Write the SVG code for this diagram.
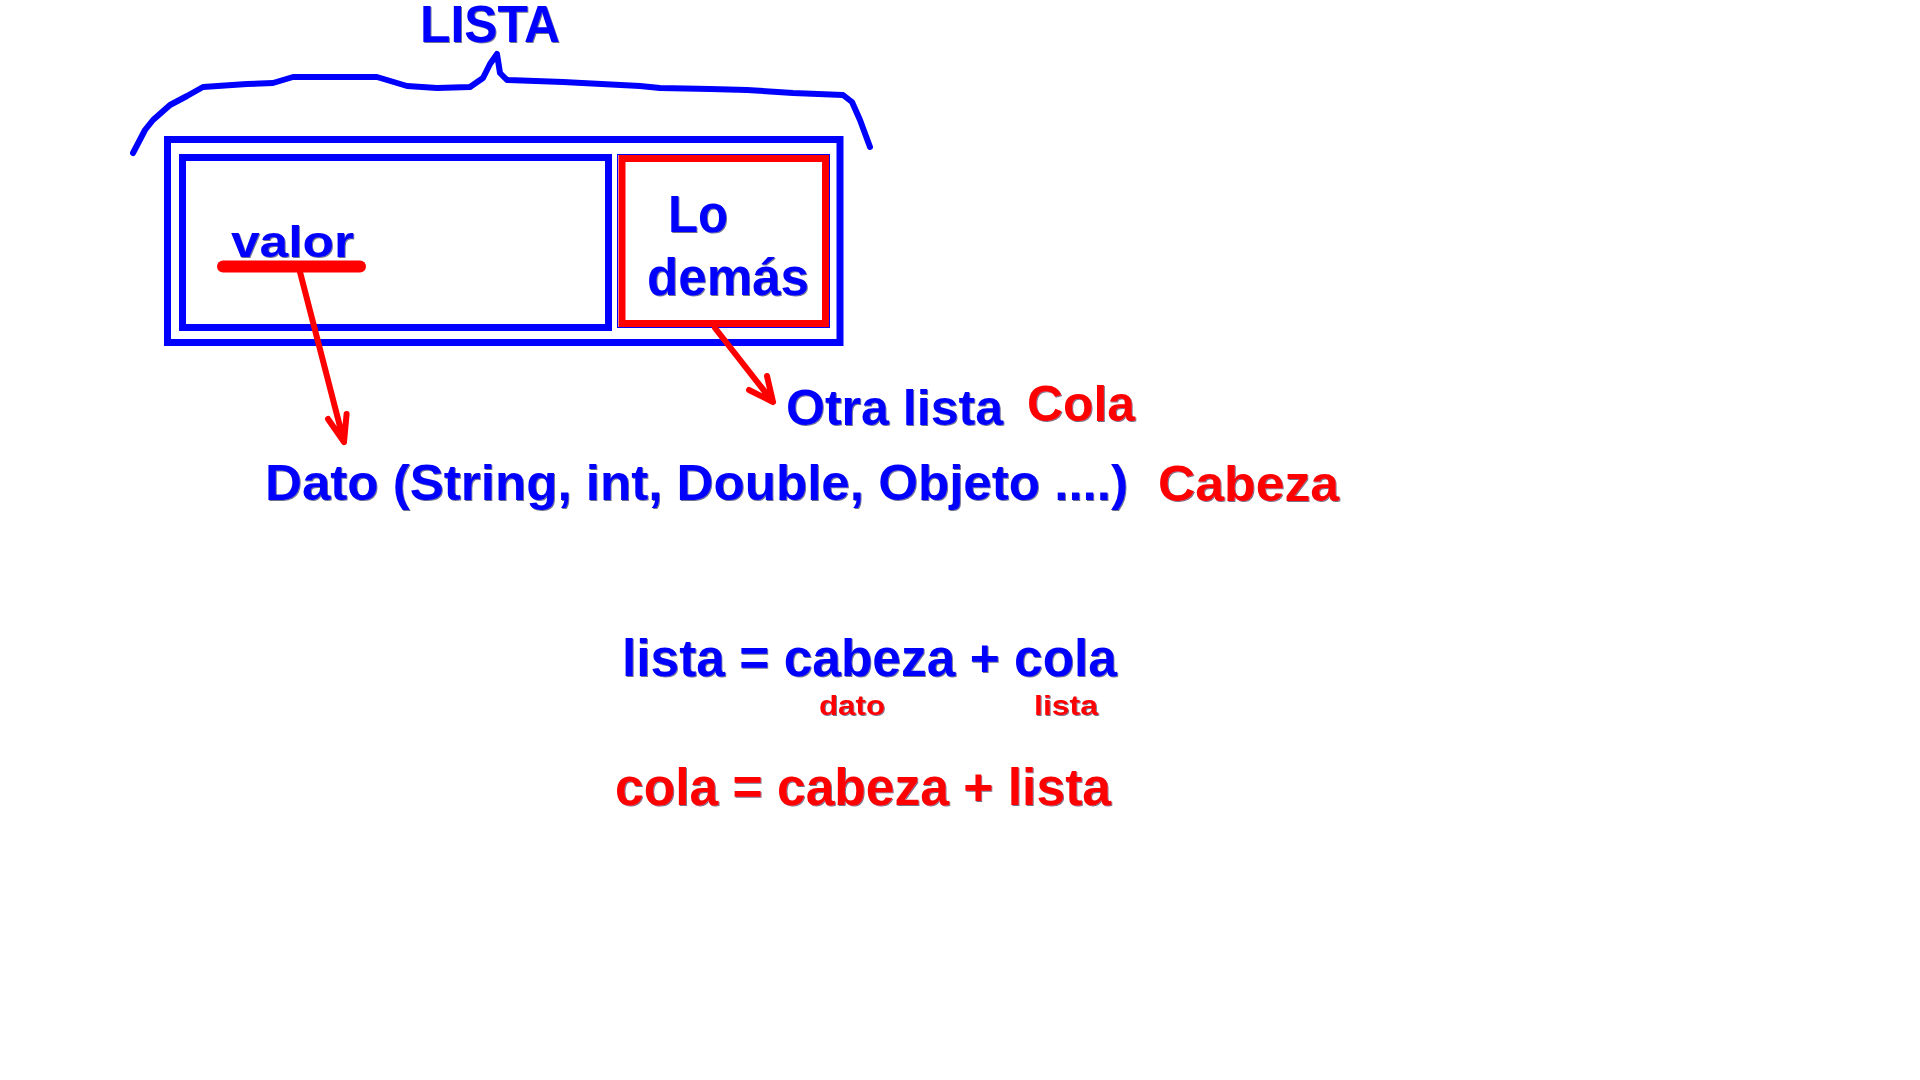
<svg xmlns="http://www.w3.org/2000/svg" width="1920" height="1080" viewBox="0 0 1920 1080">
  <defs>
    <filter id="sh" x="-5%" y="-10%" width="110%" height="130%">
      <feDropShadow dx="1" dy="1" stdDeviation="0.3" flood-color="#000033" flood-opacity="0.55"/>
    </filter>
  </defs>
  <style>
    .t { font-family: "Liberation Sans", Arial, sans-serif; font-weight: bold; filter: url(#sh); }
    .blue { fill: #0000FF; }
    .red { fill: #FF0000; }
    .bbox { fill: none; stroke: #0000FF; stroke-width: 7; }
    .rbox { fill: none; stroke: #FF0000; stroke-width: 7; }
    .brace { fill: none; stroke: #0000FF; stroke-width: 6; stroke-linecap: round; stroke-linejoin: round; }
    .conn { fill: none; stroke: #FF0000; stroke-width: 6; stroke-linecap: round; stroke-linejoin: round; }
  </style>
  <rect width="1920" height="1080" fill="#FFFFFF"/>

  <g id="lista-brace">
    <path class="brace" d="M133,153 L145,130 L153,120 L170,105 L187,96 L203,87 L247,84 L273,83 L293,77 L377,77 L407,86 L437,88 L470,87 L483,78 L490,64 L497,54 L500,73 L507,80 L563,82 L640,86 L660,88 L710,89 L747,90 L793,93 L843,95 L852,102 L860,120 L870,147"/>
    <text class="t blue" x="420" y="42" font-size="52" textLength="140" lengthAdjust="spacingAndGlyphs">LISTA</text>
  </g>

  <g id="lista-box">
    <rect class="bbox" x="167.5" y="139.5" width="672.5" height="203"/>
  </g>

  <g id="valor-box">
    <rect class="bbox" x="182.5" y="157.5" width="426" height="170"/>
    <text class="t blue" x="231" y="257" font-size="44" textLength="123" lengthAdjust="spacingAndGlyphs">valor</text>
    <line x1="223" y1="266.5" x2="360" y2="266.5" stroke="#FF0000" stroke-width="12" stroke-linecap="round"/>
  </g>

  <g id="resto-box">
    <rect x="617.5" y="154.5" width="212" height="173" fill="none" stroke="#0000FF" stroke-width="1"/>
    <rect class="rbox" x="622" y="158.5" width="203.5" height="165"/>
    <text class="t blue" x="668" y="232" font-size="51" textLength="60" lengthAdjust="spacingAndGlyphs">Lo</text>
    <text class="t blue" x="647" y="295" font-size="51" textLength="162" lengthAdjust="spacingAndGlyphs">demás</text>
  </g>

  <g id="otra-lista">
    <text class="t blue" x="786" y="425" font-size="50" textLength="217" lengthAdjust="spacingAndGlyphs">Otra lista</text>
    <text class="t red" x="1027" y="421" font-size="50" textLength="108" lengthAdjust="spacingAndGlyphs">Cola</text>
  </g>

  <g id="dato">
    <text class="t blue" x="265" y="500" font-size="50" textLength="863" lengthAdjust="spacingAndGlyphs">Dato (String, int, Double, Objeto ....)</text>
    <text class="t red" x="1158" y="501" font-size="50" textLength="181" lengthAdjust="spacingAndGlyphs">Cabeza</text>
  </g>

  <g id="formula-lista">
    <text class="t blue" x="622" y="676" font-size="51" textLength="495" lengthAdjust="spacingAndGlyphs">lista = cabeza + cola</text>
    <text class="t red" x="819" y="715" font-size="28" textLength="66" lengthAdjust="spacingAndGlyphs">dato</text>
    <text class="t red" x="1034" y="715" font-size="28" textLength="64" lengthAdjust="spacingAndGlyphs">lista</text>
  </g>

  <g id="formula-cola">
    <text class="t red" x="615" y="805" font-size="51" textLength="496" lengthAdjust="spacingAndGlyphs">cola = cabeza + lista</text>
  </g>

  <g id="connectors">
    <path class="conn" d="M300,272 L344,442 M328,419 L344,442 L346.6,414"/>
    <path class="conn" d="M715,328 L773,402 M749,390 L773,402 L767,376"/>
  </g>
</svg>
